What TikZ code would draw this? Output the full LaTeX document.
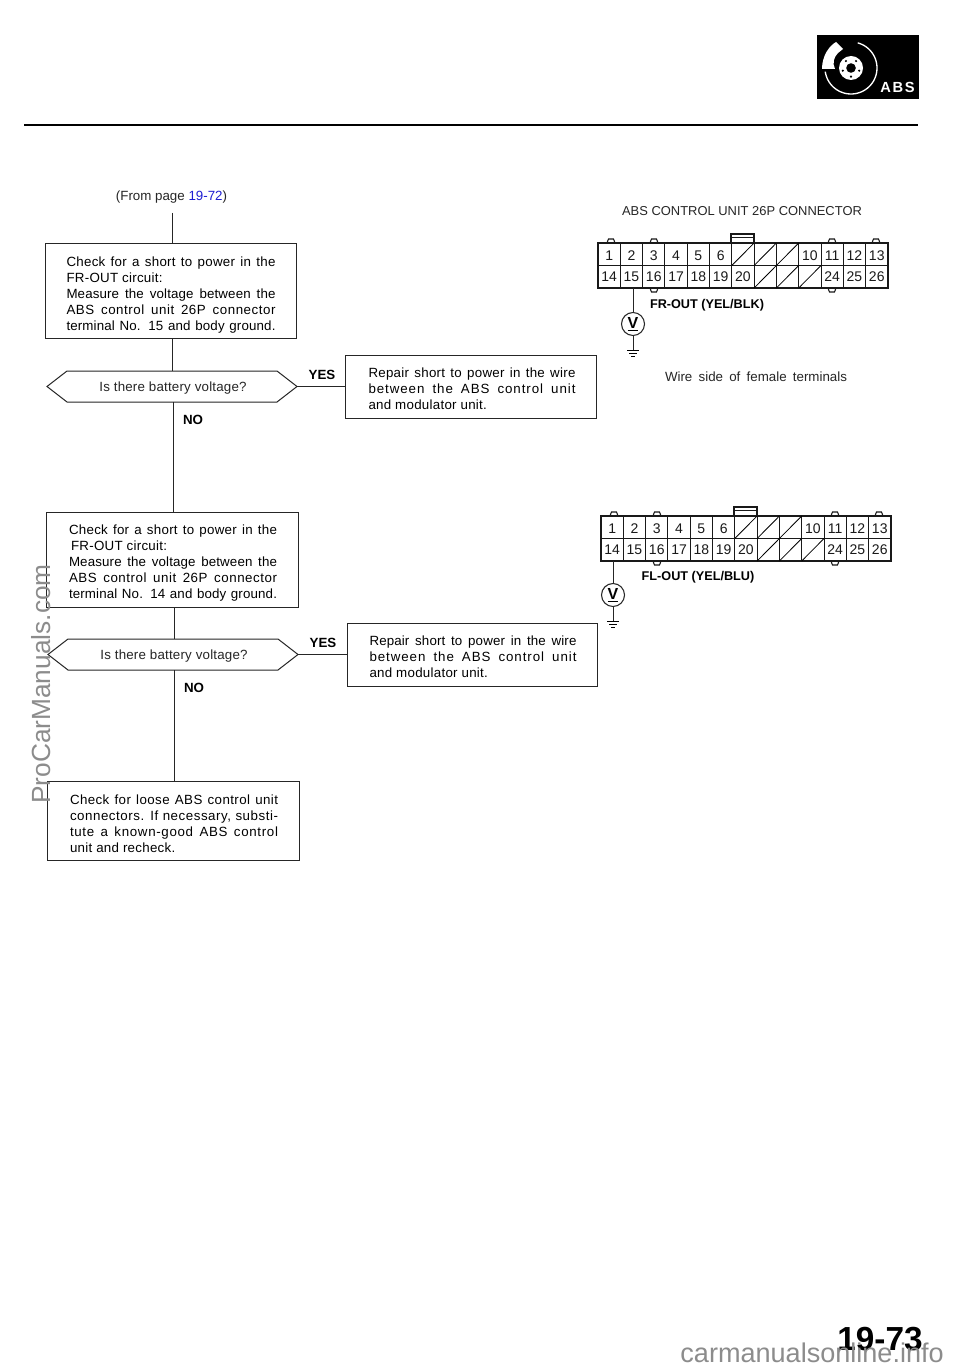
\documentclass[tikz,border=0pt]{standalone}
\usepackage{fontspec}
\setmainfont{Liberation Sans}
\usetikzlibrary{calc}
\newlength{\pxu}\setlength{\pxu}{0.75pt}
\newcommand{\ls}[2]{{\addfontfeature{LetterSpace=#1}#2}}
% a full-measure line, letter-spaced by #1
\newcommand{\jl}[2]{\makebox[\linewidth][s]{\addfontfeature{LetterSpace=#1}#2}}
% body of a box: drop (px), x offset (px), width (px), lines
\newcommand{\ftxt}[4]{\raisebox{-#1\pxu}[\height][\depth]{\hspace*{#2\pxu}\parbox[c]{#3\pxu}{#4}}}
\definecolor{wm}{gray}{0.55}
\definecolor{lk}{RGB}{30,30,210}
\tikzset{
 x=0.75pt,y=-0.75pt,
 line/.style={draw=black!85,line width=0.6pt},
 flowbox/.style={line,line width=0.75pt,rectangle,inner sep=0pt,font=\fontsize{10}{12}\selectfont},
 lab/.style={font=\fontsize{10}{12}\selectfont,inner sep=0pt,text=black!85},
 ylab/.style={font=\fontsize{10}{12}\selectfont\bfseries,inner sep=0pt},
 pin/.style={font=\fontsize{10.5}{12}\selectfont,inner sep=0pt,text=black!90},
 conn/.style={font=\fontsize{9.5}{12}\selectfont\bfseries,inner sep=0pt},
 vm/.style={circle,line,line width=0.8pt,minimum size=23*0.75pt,inner sep=0pt,font=\fontsize{12}{12}\selectfont\bfseries},
 decide/.style={line,line width=0.75pt},
}
\newcommand{\conector}[2]{%
 \begin{scope}[shift={(#1,#2)}]
  \draw[line width=0.8pt,black!90] (0,0) rectangle (290,45);
  \draw[line width=0.8pt,black!90] (0,22.5) -- (290,22.5);
  \foreach \i in {1,...,12}{\draw[line width=0.7pt,black!90] ({\i*22.3},0) -- ({\i*22.3},45);}
  \foreach \i in {6,7,8}{\draw[line width=0.6pt] ({\i*22.3},22.5) -- ({(\i+1)*22.3},0);}
  \foreach \i in {7,8,9}{\draw[line width=0.6pt] ({\i*22.3},45) -- ({(\i+1)*22.3},22.5);}
  \foreach \i/\t in {0/1,1/2,2/3,3/4,4/5,5/6,9/10,10/11,11/12,12/13}
    {\node[pin] at ({(\i+.5)*22.3},12.5) {\t};}
  \foreach \i/\t in {0/14,1/15,2/16,3/17,4/18,5/19,6/20,10/24,11/25,12/26}
    {\node[pin] at ({(\i+.5)*22.3},34) {\t};}
  \foreach \c in {13,56,234,278}{\draw[line width=0.8pt,black!90] (\c-3.5,0) -- (\c-3.5,-1.5) -- (\c-2.5,-4) -- (\c+2.5,-4) -- (\c+3.5,-1.5) -- (\c+3.5,0);}
  \foreach \c in {56,234}{\draw[line width=0.8pt,black!90] (\c-3.5,45) -- (\c-3.5,46.5) -- (\c-2.5,49) -- (\c+2.5,49) -- (\c+3.5,46.5) -- (\c+3.5,45);}
  \draw[line width=0.8pt,black!90] (133,0) -- (133,-9) -- (156,-9) -- (156,0) (133,-5.5) -- (156,-5.5);
 \end{scope}}
\newcommand{\gnd}[1]{\draw[line width=0.6pt] ($(#1)+(-6,0)$) -- ($(#1)+(6,0)$) ($(#1)+(-4,3)$) -- ($(#1)+(4,3)$) ($(#1)+(-2,6)$) -- ($(#1)+(2,6)$);}
\begin{document}
\begin{tikzpicture}
\useasboundingbox (0,0) rectangle (960,1369);
\fill[white] (0,0) rectangle (960,1369);

% header
\coordinate (ruleL) at (24,125);
\coordinate (ruleR) at (918,125);
\draw[line width=1.1pt] (ruleL) -- (ruleR);

% ABS icon
\fill[black] (817,35) rectangle (919,99);
\draw[white,line width=1pt] plot[smooth,samples=50,domain=-75:172] ({851+26*cos(\x)},{68+26*sin(\x)});
\fill[white] (822,69) .. controls (822,56) and (829,46) .. (836,42) -- (843,49) -- (838,53) .. controls (834,57) and (832,63) .. (835,69) -- cycle;
\fill[white] (851,68) circle[radius=12];
\fill[black] (851,68) circle[radius=4.8];
\foreach \a in {18,90,162,234,306}{\fill[black] ({851+8.6*cos(\a)},{68+8.6*sin(\a)}) circle[radius=1.2];}
\node[font=\fontsize{11}{12}\selectfont\bfseries,text=white,inner sep=0pt] (iconlab) at (897.5,87) {A\hspace{1.3pt}B\hspace{1.3pt}S};

% flowchart
\node[lab] (from) at (171.5,197.5) {(From page \textcolor{lk}{19-72})};
\node[flowbox,minimum width=251*0.75pt,minimum height=94*0.75pt] (b1) at (171,291) {\ftxt{4}{0}{209}{\jl{2}{Check for a short to power in the}\\\ls{2}{FR-OUT circuit:}\\\jl{1}{Measure the voltage between the}\\\jl{4}{ABS control unit 26P connector}\\\jl{1}{terminal No. 15 and body ground.}}};
\draw[decide] (67,371) -- (277,371) -- (297,386.5) -- (277,402) -- (67,402) -- (47,386.5) -- cycle;
\coordinate (h1t) at (172,371); \coordinate (h1b) at (173,402); \coordinate (h1r) at (297,386.5);
\node[lab] (q1) at (173,388) {\ls{1.5}{Is there battery voltage?}};
\node[flowbox,minimum width=251*0.75pt,minimum height=63*0.75pt] (r1) at (470.5,386.5) {\ftxt{2}{3}{207}{\jl{2}{Repair short to power in the wire}\\\jl{7}{between the ABS control unit}\\\ls{2}{and modulator unit.}}};
\node[ylab] (y1) at (322,375) {YES};
\node[ylab] (n1) at (193,420) {NO};
\node[flowbox,minimum width=252*0.75pt,minimum height=95*0.75pt] (b2) at (172,559.5) {\ftxt{4}{2}{208}{\jl{2}{Check for a short to power in the}\\\hspace*{2\pxu}\ls{2}{FR-OUT circuit:}\\\jl{1}{Measure the voltage between the}\\\jl{4}{ABS control unit 26P connector}\\\jl{1}{terminal No. 14 and body ground.}}};
\draw[decide] (68,639) -- (278,639) -- (298,654.5) -- (278,670) -- (68,670) -- (48,654.5) -- cycle;
\coordinate (h2t) at (174,639); \coordinate (h2b) at (174,670); \coordinate (h2r) at (298,654.5);
\node[lab] (q2) at (174,656) {\ls{1.5}{Is there battery voltage?}};
\node[flowbox,minimum width=250*0.75pt,minimum height=63*0.75pt] (r2) at (472,654.5) {\ftxt{2}{2}{207}{\jl{1}{Repair short to power in the wire}\\\jl{7}{between the ABS control unit}\\\ls{2}{and modulator unit.}}};
\node[ylab] (y2) at (323,643) {YES};
\node[ylab] (n2) at (194,688) {NO};
\node[flowbox,minimum width=252*0.75pt,minimum height=79*0.75pt] (b3) at (173,820.5) {\ftxt{3}{2}{208}{\jl{3}{Check for loose ABS control unit}\\\jl{4}{connectors. If necessary, substi-}\\\jl{5}{tute a known-good ABS control}\\\ls{2}{unit and recheck.}}};

\coordinate (fromb) at (172,213);
\draw[line] (fromb) -- (fromb |- b1.north);
\draw[line] (h1t |- b1.south) -- (h1t);
\draw[line] (h1b) -- (h1b |- b2.north);
\draw[line] (h2t |- b2.south) -- (h2t);
\draw[line] (h2b) -- (h2b |- b3.north);
\draw[line] (h1r) -- (r1.west |- h1r);
\draw[line] (h2r) -- (r2.west |- h2r);

% right column
\node[lab,font=\fontsize{9.7}{12}\selectfont] (title) at (742,211) {ABS CONTROL UNIT 26P CONNECTOR};
\conector{598}{243}
\node[conn] (fr) at (707,305) {FR-OUT (YEL/BLK)};
\node[vm] (v1) at (633,324) {\underline{V}};
\coordinate (p1) at (633,288);
\coordinate (g1) at (633,350);
\draw[line] (p1) -- (v1.north);
\draw[line] (v1.south) -- (g1);
\gnd{g1}
\node[lab] (wire) at (756,377) {\makebox[182\pxu][s]{Wire side of female terminals}};

\conector{601}{516}
\node[conn] (fl) at (698,577) {FL-OUT (YEL/BLU)};
\node[vm] (v2) at (613,595) {\underline{V}};
\coordinate (p2) at (613,561);
\coordinate (g2) at (613,621);
\draw[line] (p2) -- (v2.north);
\draw[line] (v2.south) -- (g2);
\gnd{g2}

% page number and watermarks
\node[font=\fontsize{25}{25}\selectfont\bfseries,inner sep=0pt] (pg) at (880,1339) {19-73};
\node[font=\fontsize{19.7}{20}\selectfont,text=wm,inner sep=0pt,rotate=90] (wm1) at (41,684) {ProCarManuals.com};
\node[font=\fontsize{20.3}{20.5}\selectfont,text=wm,inner sep=0pt,anchor=east] (wm2) at (944,1353) {carmanualsonline.info};
\end{tikzpicture}
\end{document}
